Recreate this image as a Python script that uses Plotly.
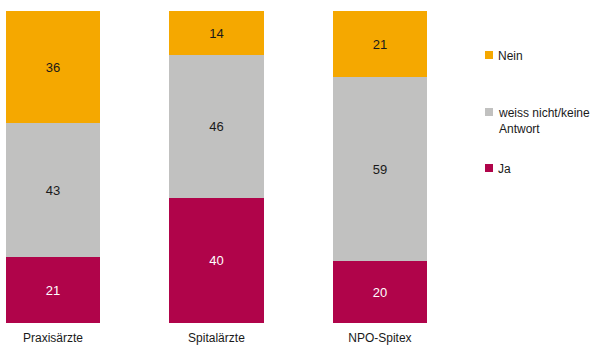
import plotly.graph_objects as go

# Survey answers by group (percent)
groups = ["Praxisärzte", "Spitalärzte", "NPO-Spitex"]
ja = [21, 40, 20]
weiss_nicht = [43, 46, 59]
nein = [36, 14, 21]

# name, values, bar colour, value-label colour, legend row (px from top)
series = [
    ("Ja", ja, "#B0044A", "#FFFFFF", 168),
    ("weiss nicht/keine<br>Antwort", weiss_nicht, "#C1C1C0", "#1A1A1A", 112),
    ("Nein", nein, "#F5A800", "#1A1A1A", 55),
]

FONT = "Liberation Sans, Arial, sans-serif"
W, H = 591, 345
M_L, M_R, M_T, M_B = 0, 121, 11, 22
PW, PH = W - M_L - M_R, H - M_T - M_B


def px_x(x):
    return (x - M_L) / PW


def px_y(y):
    return (H - M_B - y) / PH


fig = go.Figure()
shapes, annotations = [], []
for name, vals, color, txtcolor, row in series:
    fig.add_trace(go.Bar(
        x=groups, y=vals, name=name,
        marker=dict(color=color, line=dict(width=0)),
        width=0.58,
        text=vals, texttemplate="%{text}",
        textposition="inside", insidetextanchor="middle", textangle=0,
        textfont=dict(family=FONT, size=13, color=txtcolor),
        showlegend=False,
        hoverinfo="skip",
    ))
    # legend key: small square plus label, first text line level with the square
    shapes.append(dict(
        type="rect", xref="paper", yref="paper",
        x0=px_x(485), x1=px_x(493), y0=px_y(row + 4), y1=px_y(row - 4),
        fillcolor=color, line=dict(width=0),
    ))
    annotations.append(dict(
        xref="paper", yref="paper", x=px_x(496), y=px_y(row - 8),
        xanchor="left", yanchor="top", align="left", showarrow=False,
        text=name, font=dict(family=FONT, size=12, color="#1A1A1A"),
    ))

fig.update_layout(
    width=W, height=H,
    margin=dict(l=M_L, r=M_R, t=M_T, b=M_B),
    paper_bgcolor="white", plot_bgcolor="white",
    barmode="stack", bargap=0,
    font=dict(family=FONT, size=12, color="#1A1A1A"),
    showlegend=False,
    xaxis=dict(
        range=[-0.324, 2.551], showgrid=False, zeroline=False, showline=False,
        ticks="", ticklabelstandoff=6,
        tickfont=dict(family=FONT, size=12, color="#1A1A1A"),
    ),
    yaxis=dict(range=[0, 100], visible=False),
    shapes=shapes,
    annotations=annotations,
    uniformtext=dict(mode=False),
)

fig.write_html("out.html")
